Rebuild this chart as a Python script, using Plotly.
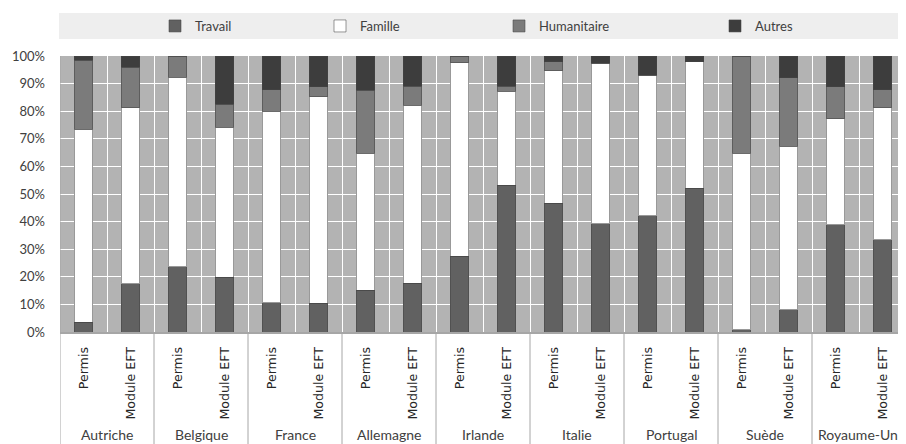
import plotly.graph_objects as go

countries = ["Autriche", "Belgique", "France", "Allemagne", "Irlande",
             "Italie", "Portugal", "Suède", "Royaume-Uni"]
sources = ["Permis", "Module EFT"]

# Shares (%) per bar, order: for each country -> Permis, Module EFT
travail = [3.5, 17.5, 23.6, 19.8, 10.6, 10.5, 15.1, 17.6, 27.4, 53.2,
           46.6, 39.3, 42.1, 52.0, 0.8, 8.0, 38.8, 33.4]
famille = [70.0, 63.8, 68.7, 54.3, 69.4, 74.8, 49.6, 64.5, 70.2, 34.0,
           48.1, 58.0, 50.9, 45.9, 63.9, 59.3, 38.5, 47.9]
humanitaire = [25.0, 14.7, 7.7, 8.5, 7.7, 3.6, 22.9, 7.0, 2.4, 1.9,
               3.2, 0.0, 0.0, 0.0, 35.3, 24.9, 11.5, 6.4]
autres = [1.5, 4.0, 0.0, 17.4, 12.3, 11.1, 12.4, 10.9, 0.0, 10.9,
          2.1, 3.0, 7.0, 2.1, 0.0, 7.8, 11.2, 12.3]

series = [("Travail", travail, "#616161"),
          ("Famille", famille, "#ffffff"),
          ("Humanitaire", humanitaire, "#7b7b7b"),
          ("Autres", autres, "#3d3d3d")]

keys = [f"{c}|{s}" for c in countries for s in sources]
tick_text = [s for c in countries for s in sources]

# page is 906x444 with an 8px body margin around the figure
OFF = 8
W, H = 906 - OFF, 444 - OFF
# plot area in page coordinates: x 60..906, y 56..332
ML, MT = 60 - OFF, 56 - OFF
MR = 0
MB = H - (332 - OFF)
PW, PH = W - ML - MR, H - MT - MB


def px_x(p):  # page x -> paper
    return (p - OFF - ML) / PW


def px_y(p):  # page y -> paper
    return (H - MB - (p - OFF)) / PH


FONT = "Lato, 'Open Sans', sans-serif"
TXT = "#404040"

fig = go.Figure()
legend_names = ["legend", "legend2", "legend3", "legend4"]
for (name, vals, col), lg in zip(series, legend_names):
    fig.add_trace(go.Bar(
        x=keys, y=[v / 100 for v in vals], name=name,
        marker=dict(color=col, line=dict(color="rgba(70,70,70,0.55)", width=1)),
        legend=lg, showlegend=True,
        hovertemplate="%{x}<br>" + name + ": %{y:.1%}<extra></extra>",
    ))

# legend text start positions (page px) in reference
legend_text_px = [192, 357, 536, 752]
legend_cfg = {}
for lg, tx in zip(legend_names, legend_text_px):
    legend_cfg[lg] = dict(
        orientation="h", x=px_x(tx - 37), xanchor="left",
        y=px_y(26), yanchor="middle", bgcolor="rgba(0,0,0,0)",
        font=dict(family=FONT, size=13, color=TXT),
        itemwidth=30, itemclick=False, itemdoubleclick=False,
    )

shapes = [dict(type="rect", xref="paper", yref="paper",
               x0=px_x(59), x1=px_x(906), y0=px_y(39), y1=px_y(13),
               fillcolor="#eeeeee", line=dict(width=0), layer="below")]
# group dividers below the axis
for i in range(len(countries) + 1):
    xpos = 2 * i - 0.5
    y1 = 1 if i == 0 else 0
    shapes.append(dict(type="line", xref="x", yref="paper",
                       x0=xpos, x1=xpos, y0=px_y(444), y1=y1,
                       line=dict(color="#a6a6a6", width=1)))

annotations = []
for i, c in enumerate(countries):
    annotations.append(dict(
        x=2 * i + 0.5, xref="x", y=px_y(445), yref="paper",
        text=c, showarrow=False, xanchor="center", yanchor="bottom",
        font=dict(family=FONT, size=14, color=TXT)))

fig.update_layout(
    width=W, height=H,
    margin=dict(l=ML, r=MR, t=MT, b=MB, autoexpand=False),
    barmode="stack", bargap=0.6, showlegend=True,
    plot_bgcolor="#b3b3b3", paper_bgcolor="#ffffff",
    shapes=shapes, annotations=annotations,
    **legend_cfg,
)
fig.update_xaxes(
    type="category", tickvals=keys, ticktext=tick_text, tickangle=-90,
    tickson="boundaries", ticks="", showgrid=True, gridcolor="#ffffff",
    gridwidth=1.3, showline=True, linecolor="#a6a6a6", linewidth=2,
    tickfont=dict(family="DejaVu Sans", size=12.6, color="#262626"),
    ticklabelstandoff=8, range=[-0.5, 17.5], fixedrange=True,
    automargin=False,
)
fig.update_yaxes(
    range=[0, 1], tickvals=[i / 10 for i in range(11)], tickformat=".0%",
    showgrid=True, gridcolor="#ffffff", gridwidth=1.3, zeroline=False,
    tickfont=dict(family=FONT, size=13, color=TXT),
    ticklabelstandoff=14, fixedrange=True, automargin=False,
)

fig.write_html("out.html")
